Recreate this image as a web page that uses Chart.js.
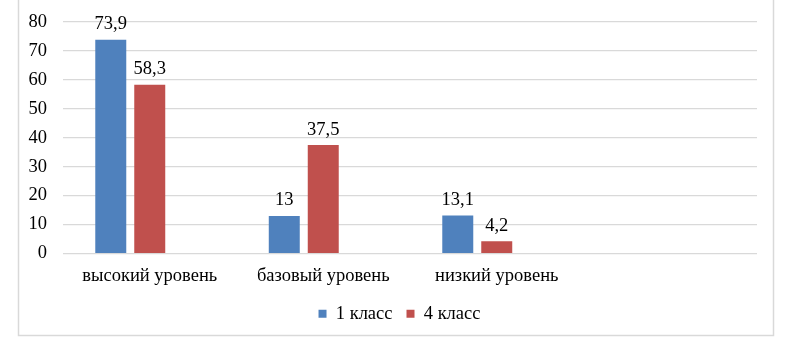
<!DOCTYPE html>
<html>
<head>
<meta charset="utf-8">
<script src="https://cdn.jsdelivr.net/npm/chart.js@4/dist/chart.umd.min.js"></script>
<style>
html,body{margin:0;padding:0;background:#fff;}
canvas{display:block;}
</style>
</head>
<body>
<canvas id="c" width="800" height="358"></canvas>
<script>
const categories = ['высокий уровень', 'базовый уровень', 'низкий уровень', ''];
const seriesNames = ['1 класс', '4 класс'];
const class1 = [73.9, 13, 13.1, null];
const class4 = [58.3, 37.5, 4.2, null];
const emptySeries = [null, null, null, null];
const yTicks = [0, 10, 20, 30, 40, 50, 60, 70, 80];

const FONT = '"Liberation Serif", "Times New Roman", serif';
const FS = 18.5;

const framePlugin = {
  id: 'frame',
  afterLayout(chart) {
    if (chart.legend) { chart.legend.left += 21; chart.legend.right += 21; }
  },
  beforeDraw(chart) {
    const ctx = chart.ctx;
    ctx.save();
    ctx.fillStyle = '#fff';
    ctx.fillRect(0, 0, chart.width, chart.height);
    ctx.strokeStyle = '#d9d9d9';
    ctx.lineWidth = 1.5;
    ctx.strokeRect(18.5, -2, 755, 337.5);
    ctx.restore();
  }
};

const labelPlugin = {
  id: 'barLabels',
  afterDatasetsDraw(chart) {
    const ctx = chart.ctx;
    ctx.save();
    ctx.font = FS + 'px ' + FONT;
    ctx.fillStyle = '#000';
    ctx.textAlign = 'center';
    ctx.textBaseline = 'bottom';
    chart.data.datasets.forEach((ds, di) => {
      const meta = chart.getDatasetMeta(di);
      meta.data.forEach((bar, i) => {
        const v = ds.data[i];
        if (v === null || v === undefined) return;
        const txt = String(v).replace('.', ',');
        ctx.fillText(txt, bar.x, bar.y - 6);
      });
    });
    ctx.restore();
  }
};

new Chart(document.getElementById('c'), {
  type: 'bar',
  data: {
    labels: categories,
    datasets: [
      { label: seriesNames[0], data: class1, backgroundColor: '#4F81BD' },
      { label: seriesNames[1], data: class4, backgroundColor: '#C0504D' },
      { label: '', data: emptySeries, backgroundColor: '#9BBB59' }
    ]
  },
  options: {
    responsive: false,
    animation: false,
    categoryPercentage: 0.674,
    barPercentage: 0.795,
    layout: { padding: { left: 0, right: 43, top: 22, bottom: 25 } },
    scales: {
      x: {
        grid: { display: false, drawTicks: false },
        border: { display: false },
        ticks: { color: '#000', font: { family: FONT, size: FS }, padding: 12, maxRotation: 0 },
        afterFit(s) { s.height = 37; s.paddingLeft = 0; s.paddingRight = 0; }
      },
      y: {
        min: 0, max: 80,
        afterBuildTicks(s) { s.ticks = yTicks.map(v => ({ value: v })); },
        grid: { color: '#d9d9d9', lineWidth: 1.2, drawTicks: false },
        border: { display: false },
        ticks: { color: '#000', font: { family: FONT, size: FS }, padding: 16 },
        afterFit(s) { s.width = 63; s.paddingTop = 0; s.paddingBottom = 0; }
      }
    },
    plugins: {
      legend: {
        position: 'bottom',
        labels: {
          color: '#000',
          font: { family: FONT, size: FS },
          boxWidth: 8, boxHeight: 8,
          padding: 14,
          filter: item => item.text !== ''
        }
      },
      tooltip: { enabled: false }
    }
  },
  plugins: [framePlugin, labelPlugin]
});
</script>
</body>
</html>
